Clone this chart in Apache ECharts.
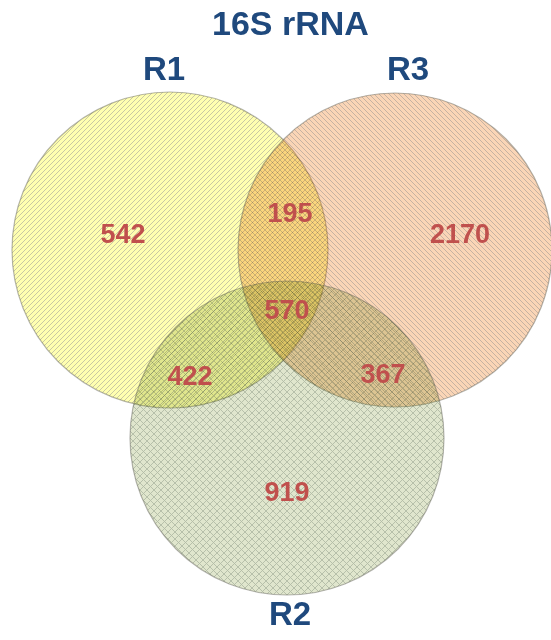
<!DOCTYPE html>
<html><head><meta charset="utf-8">
<script src="https://cdn.jsdelivr.net/npm/echarts@6/dist/echarts.min.js"></script>
<style>html,body{margin:0;padding:0;background:#fff}#c{width:551px;height:640px}</style>
</head><body><div id="c"></div>
<script>
// ---- data ----
const chartTitle = '16S rRNA';
const setNames = ['R1', 'R2', 'R3'];
const regionNames = ['R1 only', 'R1∩R3', 'R3 only', 'R1∩R2∩R3', 'R1∩R2', 'R2∩R3', 'R2 only'];
const regionValues = [542, 195, 2170, 570, 422, 367, 919];

// ---- layout (coordinates on a hidden 551x640 value grid) ----
const circleLayout = { R1: [170, 250, 158], R2: [287, 438, 157], R3: [395, 250, 157] };
const setLabelPos = { R1: [164, 71], R2: [290, 616], R3: [408, 71] };
const regionPos = [[123, 236], [290, 215], [460, 236], [287, 312], [190, 378], [383, 376], [287, 494]];

// Pattern with per-pixel alpha chosen so that, over white, it shows the target colour,
// while overlapping circles darken each other (multiply-like look).
function makePattern(base, line, kind, s, lw) {
  const size = s * 8;
  const cv = document.createElement('canvas');
  cv.width = size; cv.height = size;
  const ctx = cv.getContext('2d');
  ctx.fillStyle = base; ctx.fillRect(0, 0, size, size);
  ctx.strokeStyle = line; ctx.lineWidth = lw;
  ctx.beginPath();
  for (let k = -10; k <= 20; k++) {
    if (kind === 'up' || kind === 'cross') { ctx.moveTo(k * s, size); ctx.lineTo(k * s + size, 0); }
    if (kind === 'down' || kind === 'cross') { ctx.moveTo(k * s, 0); ctx.lineTo(k * s + size, size); }
  }
  ctx.stroke();
  const img = ctx.getImageData(0, 0, size, size);
  const d = img.data;
  for (let i = 0; i < d.length; i += 4) {
    const r = d[i], g = d[i + 1], b = d[i + 2];
    const m = Math.min(r, g, b);
    const a = Math.max(0.04, 1 - m / 255);
    d[i] = Math.round((r - (1 - a) * 255) / a);
    d[i + 1] = Math.round((g - (1 - a) * 255) / a);
    d[i + 2] = Math.round((b - (1 - a) * 255) / a);
    d[i + 3] = Math.round(a * 255);
  }
  ctx.putImageData(img, 0, 0);
  return { image: cv, repeat: 'repeat' };
}
const patterns = {
  R1: makePattern('#FFFFB0', '#C2C2A2', 'up', 5, 0.9),
  R2: makePattern('#E0E6CD', '#B2BBA6', 'cross', 7, 0.9),
  R3: makePattern('#FAD5B6', '#C0AE9F', 'down', 5, 0.9)
};
const drawOrder = ['R1', 'R3', 'R2'];

const chart = echarts.init(document.getElementById('c'), null, { renderer: 'canvas' });
chart.setOption({
  animation: false,
  backgroundColor: '#ffffff',
  title: {
    text: chartTitle, left: 207, top: 4,
    textStyle: { fontFamily: 'Liberation Sans', fontWeight: 'bold', fontSize: 34, color: '#1F497D' }
  },
  grid: { left: 0, right: 0, top: 0, bottom: 0 },
  xAxis: { type: 'value', min: 0, max: 551, show: false },
  yAxis: { type: 'value', min: 0, max: 640, inverse: true, show: false },
  series: [
    {
      type: 'custom',
      data: drawOrder.map(n => [circleLayout[n][0], circleLayout[n][1], circleLayout[n][2]]),
      renderItem: function (params, api) {
        const c = api.coord([api.value(0), api.value(1)]);
        const r = api.size([api.value(2), 0])[0];
        return {
          type: 'circle',
          shape: { cx: c[0], cy: c[1], r: r },
          style: { fill: patterns[drawOrder[params.dataIndex]], stroke: 'rgba(90,90,80,0.45)', lineWidth: 1.2 }
        };
      },
      silent: true
    },
    {
      type: 'scatter', symbolSize: 0, silent: true,
      itemStyle: { opacity: 1 },
      data: setNames.map(n => ({ name: n, value: setLabelPos[n] })),
      label: {
        show: true, position: 'inside', formatter: p => p.name, opacity: 1,
        fontFamily: 'Liberation Sans', fontWeight: 'bold', fontSize: 33, color: '#1F497D'
      }
    },
    {
      type: 'scatter', symbolSize: 0, silent: true, z: 5,
      itemStyle: { opacity: 1 },
      data: regionValues.map((v, i) => ({ name: regionNames[i], value: [regionPos[i][0], regionPos[i][1], v] })),
      label: {
        show: true, position: 'inside', formatter: p => String(p.value[2]), opacity: 1,
        fontFamily: 'Liberation Sans', fontWeight: 'bold', fontSize: 27, color: '#C0504D'
      }
    }
  ]
});
</script></body></html>
